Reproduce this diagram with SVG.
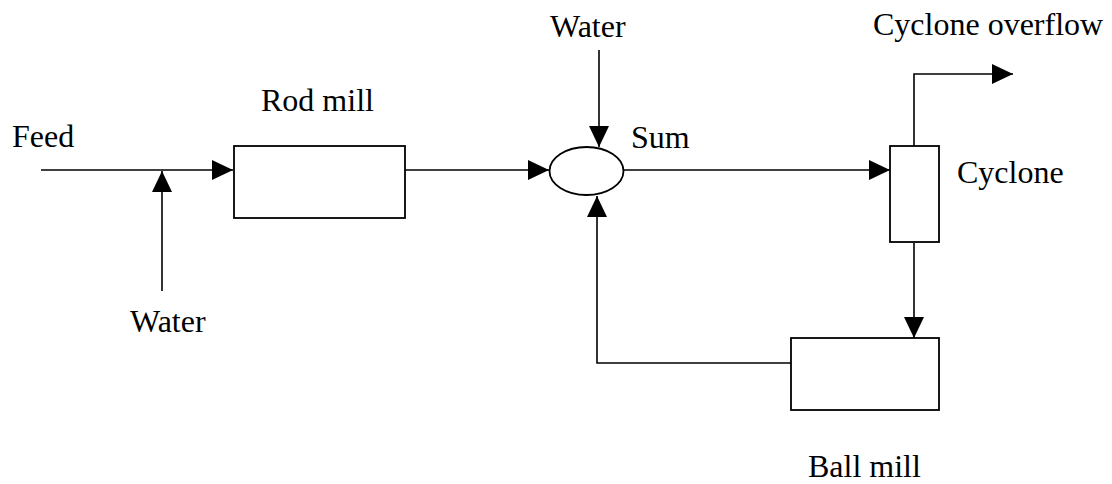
<svg xmlns="http://www.w3.org/2000/svg" width="1112" height="484" viewBox="0 0 1112 484">
<style>
.box{fill:#fff;stroke:#000;stroke-width:1.8}
.ln{fill:none;stroke:#000;stroke-width:1.6}
.lbl{font-family:"Liberation Serif","Times New Roman",serif;font-size:32px;fill:#000}
</style>
<defs>
<marker id="ah" markerUnits="userSpaceOnUse" markerWidth="21" markerHeight="20" refX="21" refY="10" orient="auto">
<path d="M0,0 L21,10 L0,20 Z" fill="#000"/>
</marker>
</defs>
<rect width="1112" height="484" fill="#fff"/>
<g id="connectors">
<path class="ln" d="M41,170 H233" marker-end="url(#ah)"/>
<path class="ln" d="M162,291 V171" marker-end="url(#ah)"/>
<path class="ln" d="M405,170 H549" marker-end="url(#ah)"/>
<path class="ln" d="M599,50 V147" marker-end="url(#ah)"/>
<path class="ln" d="M624,170 H890" marker-end="url(#ah)"/>
<path class="ln" d="M914,146 V74 H1013" marker-end="url(#ah)"/>
<path class="ln" d="M914,243 V338" marker-end="url(#ah)"/>
<path class="ln" d="M791,363 H597 V196" marker-end="url(#ah)"/>
</g>
<g id="feed"><text class="lbl" x="12" y="147">Feed</text></g>
<g id="water1"><text class="lbl" x="130" y="332">Water</text></g>
<g id="rodmill">
<rect class="box" x="234" y="146" width="171" height="72"/>
<text class="lbl" x="261" y="111">Rod mill</text>
</g>
<g id="water2"><text class="lbl" x="550" y="37">Water</text></g>
<g id="sum">
<ellipse class="box" cx="586.5" cy="171" rx="37" ry="24"/>
<text class="lbl" x="631" y="148">Sum</text>
</g>
<g id="cyclone">
<rect class="box" x="890" y="146" width="49" height="96"/>
<text class="lbl" x="957" y="183">Cyclone</text>
</g>
<g id="overflow"><text class="lbl" x="873" y="35">Cyclone overflow</text></g>
<g id="ballmill">
<rect class="box" x="791" y="338" width="148" height="72"/>
<text class="lbl" x="808" y="477">Ball mill</text>
</g>
</svg>
